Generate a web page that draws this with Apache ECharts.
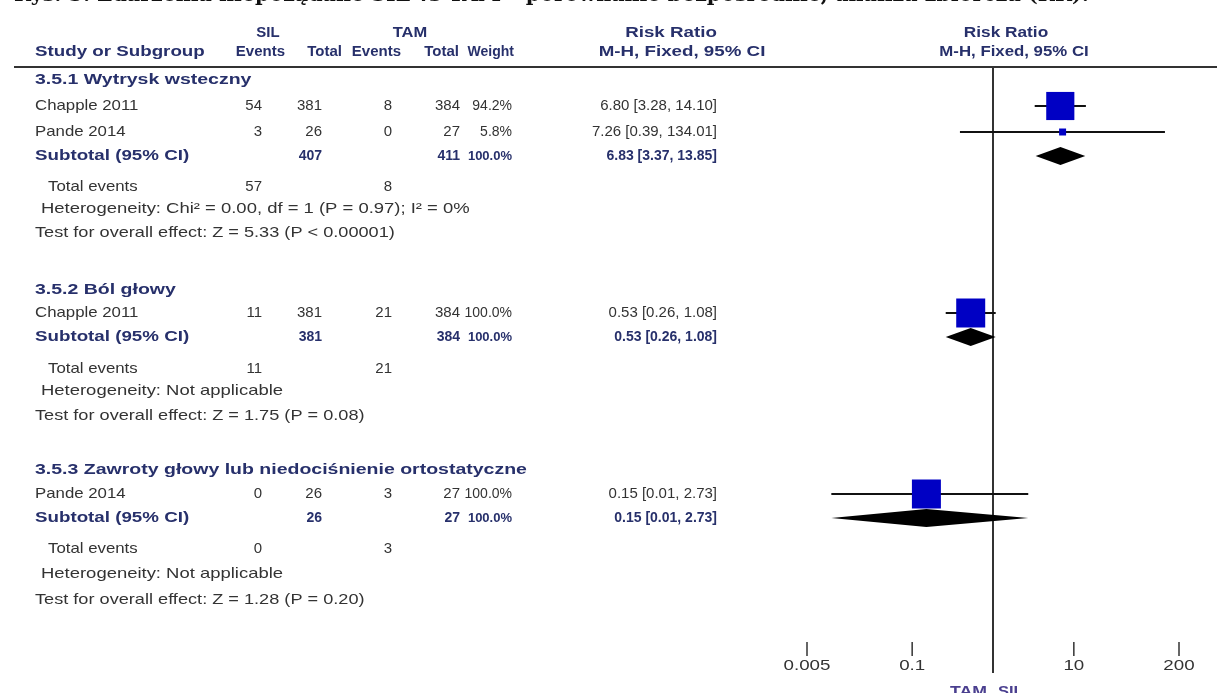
<!DOCTYPE html>
<html>
<head>
<meta charset="utf-8">
<script src="https://cdn.jsdelivr.net/npm/echarts@6/dist/echarts.min.js"></script>
<style>
  html, body { margin: 0; padding: 0; background: #fff; }
  #chart { width: 1217px; height: 693px; }
</style>
</head>
<body>
<div id="chart"></div>
<script>
// ---- data ----
const groupNames = ['3.5.1 Wytrysk wsteczny', '3.5.2 Ból głowy', '3.5.3 Zawroty głowy lub niedociśnienie ortostatyczne'];
const studyNames = ['Chapple 2011', 'Pande 2014', 'Chapple 2011', 'Pande 2014'];
const silEvents = [54, 3, 11, 0];
const silTotal = [381, 26, 381, 26];
const tamEvents = [8, 0, 21, 3];
const tamTotal = [384, 27, 384, 27];
const studyWeight = [94.2, 5.8, 100.0, 100.0];
const studyRR = [6.80, 7.26, 0.53, 0.15];
const studyLow = [3.28, 0.39, 0.26, 0.01];
const studyHigh = [14.10, 134.01, 1.08, 2.73];
const subSilTotal = [407, 381, 26];
const subTamTotal = [411, 384, 27];
const subWeight = [100.0, 100.0, 100.0];
const subRR = [6.83, 0.53, 0.15];
const subLow = [3.37, 0.26, 0.01];
const subHigh = [13.85, 1.08, 2.73];
const totalSilEvents = [57, 11, 0];
const totalTamEvents = [8, 21, 3];
const heterogeneityText = [
  'Heterogeneity: Chi² = 0.00, df = 1 (P = 0.97); I² = 0%',
  'Heterogeneity: Not applicable',
  'Heterogeneity: Not applicable'
];
const overallEffectText = [
  'Test for overall effect: Z = 5.33 (P < 0.00001)',
  'Test for overall effect: Z = 1.75 (P = 0.08)',
  'Test for overall effect: Z = 1.28 (P = 0.20)'
];
const tickValues = [0.005, 0.1, 10, 200];
const tickLabels = ['0.005', '0.1', '10', '200'];

// ---- layout (row centres in px, column edges in px) ----
const groupRowY = [
  { head: 80, studies: [106, 132], sub: 156, events: 187, het: 209, test: 233 },
  { head: 290, studies: [313], sub: 337, events: 369, het: 391, test: 416 },
  { head: 470, studies: [494], sub: 518, events: 549, het: 574, test: 600 }
];
const col = { name: 35, silEv: 262, silTot: 322, tamEv: 392, tamTot: 460, weight: 512, ci: 717 };
const headerLineY = 67;
const axisY = 656;

const SANS = '"Liberation Sans", Arial, sans-serif';
const NAVY = '#27306b';
const INK = '#333';
const fontReg = '15px ' + SANS;
const fontBold = 'bold 15px ' + SANS;
const fontWeight = '14px ' + SANS;
const fontNumBold = 'bold 14px ' + SANS;
const WIDE = 1.25;   // horizontal stretch of the label typeface

function txt(x, y, s, align, font, fill, sx) {
  return {
    type: 'text', x: x, y: y, silent: true, scaleX: sx || 1,
    style: { text: s, font: font || fontReg, fill: fill || INK, textAlign: align || 'left', textVerticalAlign: 'middle' }
  };
}
const fmt2 = v => v.toFixed(2);
const ciText = (rr, lo, hi) => fmt2(rr) + ' [' + fmt2(lo) + ', ' + fmt2(hi) + ']';

// ---- table text ----
const g = [];
g.push({
  type: 'text', x: 14, y: 6, silent: true, scaleX: 1.03,
  style: { text: 'Rys. 5. Zdarzenia niepożądane SIL vs TAM – porównanie bezpośrednie, analiza zbiorcza (RR).',
           font: 'bold 20px "DejaVu Serif", serif', fill: '#111', textAlign: 'left', textVerticalAlign: 'bottom' }
});
g.push(txt(268, 33, 'SIL', 'center', fontBold, NAVY));
g.push(txt(410, 33, 'TAM', 'center', fontBold, NAVY, 1.1));
g.push(txt(671, 33, 'Risk Ratio', 'center', fontBold, NAVY, WIDE));
g.push(txt(1006, 33, 'Risk Ratio', 'center', fontBold, NAVY, 1.15));
g.push(txt(col.name, 52, 'Study or Subgroup', 'left', fontBold, NAVY, WIDE));
g.push(txt(285, 52, 'Events', 'right', fontBold, NAVY));
g.push(txt(342, 52, 'Total', 'right', fontBold, NAVY));
g.push(txt(401, 52, 'Events', 'right', fontBold, NAVY));
g.push(txt(459, 52, 'Total', 'right', fontBold, NAVY));
g.push(txt(514, 52, 'Weight', 'right', 'bold 14px ' + SANS, NAVY));
g.push(txt(682, 52, 'M-H, Fixed, 95% CI', 'center', fontBold, NAVY, WIDE));
g.push(txt(1014, 52, 'M-H, Fixed, 95% CI', 'center', fontBold, NAVY, 1.12));
g.push({ type: 'line', silent: true, shape: { x1: 14, y1: headerLineY, x2: 1217, y2: headerLineY }, style: { stroke: '#333', lineWidth: 2 } });

const studyY = [];
let k = 0;
groupRowY.forEach((r, gi) => {
  g.push(txt(col.name, r.head, groupNames[gi], 'left', fontBold, NAVY, 1.3));
  r.studies.forEach(y => {
    const i = k++;
    studyY[i] = y;
    g.push(txt(col.name, y, studyNames[i], 'left', fontReg, INK, 1.12));
    g.push(txt(col.silEv, y, String(silEvents[i]), 'right'));
    g.push(txt(col.silTot, y, String(silTotal[i]), 'right'));
    g.push(txt(col.tamEv, y, String(tamEvents[i]), 'right'));
    g.push(txt(col.tamTot, y, String(tamTotal[i]), 'right'));
    g.push(txt(col.weight, y, studyWeight[i].toFixed(1) + '%', 'right', fontWeight));
    g.push(txt(col.ci, y, ciText(studyRR[i], studyLow[i], studyHigh[i]), 'right'));
  });
  g.push(txt(col.name, r.sub, 'Subtotal (95% CI)', 'left', fontBold, NAVY, WIDE));
  g.push(txt(col.silTot, r.sub, String(subSilTotal[gi]), 'right', fontNumBold, NAVY));
  g.push(txt(col.tamTot, r.sub, String(subTamTotal[gi]), 'right', fontNumBold, NAVY));
  g.push(txt(col.weight, r.sub, subWeight[gi].toFixed(1) + '%', 'right', 'bold 13px ' + SANS, NAVY));
  g.push(txt(col.ci, r.sub, ciText(subRR[gi], subLow[gi], subHigh[gi]), 'right', fontNumBold, NAVY));
  g.push(txt(48, r.events, 'Total events', 'left', fontReg, INK, 1.12));
  g.push(txt(col.silEv, r.events, String(totalSilEvents[gi]), 'right'));
  g.push(txt(col.tamEv, r.events, String(totalTamEvents[gi]), 'right'));
  g.push(txt(41, r.het, heterogeneityText[gi], 'left', fontReg, INK, 1.23));
  g.push(txt(col.name, r.test, overallEffectText[gi], 'left', fontReg, INK, 1.21));
});
g.push(txt(987, 692, 'TAM', 'right', fontBold, '#4a3f8f', 1.18));
g.push(txt(998, 692, 'SIL', 'left', fontBold, '#4a3f8f', 1.1));

// ---- plot data ----
const studyData = studyRR.map((v, i) => [v, studyLow[i], studyHigh[i], studyY[i], studyWeight[i]]);
const subData = subRR.map((v, i) => [v, subLow[i], subHigh[i], groupRowY[i].sub]);

const chart = echarts.init(document.getElementById('chart'), null, { renderer: 'canvas' });
chart.setOption({
  animation: false,
  backgroundColor: '#fff',
  grid: { left: 807, width: 372, top: headerLineY, bottom: 693 - axisY },
  xAxis: {
    type: 'log', logBase: 10, min: 0.005, max: 200,
    axisLine: { show: false }, axisTick: { show: false }, axisLabel: { show: false }, splitLine: { show: false }
  },
  yAxis: {
    type: 'value', inverse: true, min: headerLineY, max: axisY, show: false
  },
  graphic: { elements: g },
  series: [
    {
      // line of no effect
      type: 'custom', clip: false, silent: true, z: 1,
      data: [[1]],
      encode: { x: 0 },
      renderItem: (params, api) => {
        const a = api.coord([api.value(0), headerLineY]);
        const b = api.coord([api.value(0), 673]);
        return { type: 'line', shape: { x1: a[0], y1: a[1], x2: b[0], y2: b[1] }, style: { stroke: '#333', lineWidth: 2 } };
      }
    },
    {
      // axis ticks and labels
      type: 'custom', clip: false, silent: true,
      data: tickValues.map((v, i) => [v, i]),
      encode: { x: 0 },
      renderItem: (params, api) => {
        const p = api.coord([api.value(0), axisY]);
        return {
          type: 'group', children: [
            { type: 'line', shape: { x1: p[0], y1: p[1] - 14, x2: p[0], y2: p[1] }, style: { stroke: '#333', lineWidth: 1.5 } },
            { type: 'text', x: p[0], y: p[1] + 10, scaleX: WIDE,
              style: { text: tickLabels[api.value(1)], font: '15px ' + SANS, fill: INK, textAlign: 'center', textVerticalAlign: 'middle' } }
          ]
        };
      }
    },
    {
      // study estimates: CI whisker and weight-scaled square
      type: 'custom', clip: false, silent: true, z: 3,
      data: studyData,
      encode: { x: [0, 1, 2], y: 3 },
      renderItem: (params, api) => {
        const y = api.value(3);
        const p = api.coord([api.value(0), y]);
        const lo = api.coord([api.value(1), y]);
        const hi = api.coord([api.value(2), y]);
        const s = 29 * Math.sqrt(api.value(4) / 100);
        return {
          type: 'group', children: [
            { type: 'line', shape: { x1: lo[0], y1: lo[1], x2: hi[0], y2: hi[1] }, style: { stroke: '#111', lineWidth: 2 } },
            { type: 'rect', shape: { x: p[0] - s / 2, y: p[1] - s / 2, width: s, height: s }, style: { fill: '#0000c4' } }
          ]
        };
      }
    },
    {
      // pooled estimates: diamonds
      type: 'custom', clip: false, silent: true, z: 3,
      data: subData,
      encode: { x: [0, 1, 2], y: 3 },
      renderItem: (params, api) => {
        const y = api.value(3);
        const p = api.coord([api.value(0), y]);
        const lo = api.coord([api.value(1), y]);
        const hi = api.coord([api.value(2), y]);
        const h = 9;
        return {
          type: 'polygon',
          shape: { points: [[lo[0], lo[1]], [p[0], p[1] - h], [hi[0], hi[1]], [p[0], p[1] + h]] },
          style: { fill: '#000' }
        };
      }
    }
  ]
});
</script>
</body>
</html>
